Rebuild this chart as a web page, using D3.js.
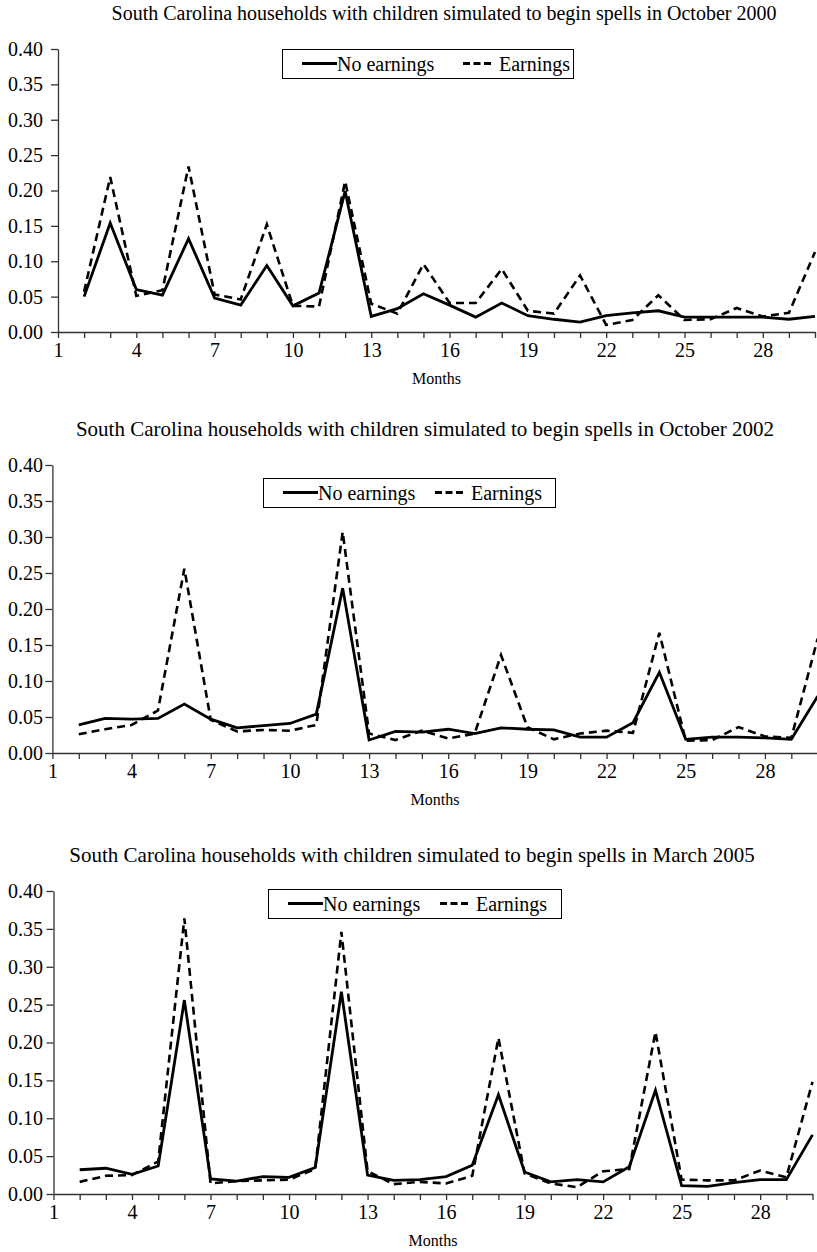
<!DOCTYPE html>
<html><head><meta charset="utf-8">
<script src="https://cdn.jsdelivr.net/npm/d3@7"></script>
<style>body{margin:0;background:#fff}svg{display:block}</style>
</head><body><svg id="c" width="817" height="1252"></svg>
<script>
const months = d3.range(1, 31);
const xTickLabels = [1, 4, 7, 10, 13, 16, 19, 22, 25, 28];
const yTicks = [0, 0.05, 0.10, 0.15, 0.20, 0.25, 0.30, 0.35, 0.40];
const seriesNames = ["No earnings", "Earnings"];
const titles = [
  "South Carolina households with children simulated to begin spells in October 2000",
  "South Carolina households with children simulated to begin spells in October 2002",
  "South Carolina households with children simulated to begin spells in March 2005"
];
// month 1 has no value
const noEarn2000 = [null,0.050,0.154,0.060,0.052,0.132,0.048,0.038,0.094,0.037,0.055,0.199,0.022,0.033,0.054,0.038,0.021,0.041,0.023,0.018,0.014,0.023,0.027,0.030,0.021,0.021,0.021,0.021,0.018,0.022];
const earn2000   = [null,0.057,0.219,0.051,0.059,0.234,0.053,0.046,0.152,0.037,0.036,0.213,0.040,0.026,0.096,0.041,0.041,0.089,0.030,0.026,0.080,0.010,0.017,0.052,0.017,0.018,0.034,0.022,0.027,0.113];
const noEarn2002 = [null,0.039,0.048,0.047,0.048,0.068,0.047,0.035,0.038,0.041,0.054,0.229,0.018,0.030,0.029,0.033,0.027,0.035,0.033,0.032,0.022,0.022,0.042,0.112,0.019,0.022,0.022,0.021,0.019,0.079];
const earn2002   = [null,0.026,0.033,0.039,0.059,0.256,0.046,0.030,0.032,0.031,0.039,0.307,0.027,0.018,0.031,0.020,0.027,0.136,0.036,0.019,0.027,0.031,0.028,0.167,0.017,0.018,0.036,0.023,0.021,0.159];
const noEarn2005 = [null,0.032,0.034,0.026,0.037,0.256,0.020,0.017,0.023,0.022,0.035,0.267,0.025,0.018,0.019,0.023,0.038,0.131,0.029,0.016,0.019,0.016,0.036,0.137,0.011,0.010,0.015,0.019,0.019,0.078];
const earn2005   = [null,0.016,0.024,0.025,0.043,0.364,0.014,0.017,0.018,0.019,0.033,0.346,0.030,0.013,0.016,0.014,0.024,0.206,0.027,0.014,0.009,0.030,0.033,0.214,0.019,0.018,0.018,0.031,0.022,0.148];

const panelData = [[noEarn2000, earn2000], [noEarn2002, earn2002], [noEarn2005, earn2005]];
const FONT = '"Liberation Serif", "Times New Roman", serif';
// layout (positions only)
const layout = [
  {left: 58, right: 815, top: 49, bottom: 332, titleX: 444, titleSize: 20, legend: {x: 282, y: 49, w: 291, h: 29, l1: 302, l2: 463}},
  {left: 52.4, right: 817.7, top: 465, bottom: 753, titleX: 425, titleSize: 21, legend: {x: 263, y: 478, w: 292, h: 29, l1: 283, l2: 435}},
  {left: 53.5, right: 812.5, top: 891, bottom: 1194, titleX: 412, titleSize: 21, legend: {x: 268, y: 889, w: 293, h: 29, l1: 288, l2: 440}}
];
const dashes = [null, "8,5"];

const svg = d3.select("#c").style("font-family", FONT);
layout.forEach((L, i) => {
  const g = svg.append("g");
  const x = d3.scaleLinear().domain([1, 30]).range([L.left, L.right]);
  const y = d3.scaleLinear().domain([0, 0.4]).range([L.bottom, L.top]);

  // title
  g.append("text").attr("x", L.titleX).attr("y", L.top - 29)
    .attr("text-anchor", "middle").style("font-family", FONT).style("font-size", L.titleSize + "px").text(titles[i]);

  // y axis
  const ya = g.append("g").attr("transform", `translate(${L.left},0)`)
    .call(d3.axisLeft(y).tickValues(yTicks).tickFormat(d3.format(".2f")).tickSize(7).tickSizeOuter(0));
  ya.attr("font-family", null);
  ya.selectAll("text").style("font-family", FONT).style("font-size", "20px").attr("fill", "#000").attr("x", 43 - L.left);
  // x axis
  const xa = g.append("g").attr("transform", `translate(0,${L.bottom})`)
    .call(d3.axisBottom(x).tickValues(months).tickFormat(d => xTickLabels.includes(d) ? d : "").tickSize(6).tickSizeOuter(0));
  xa.attr("font-family", null);
  xa.selectAll("text").style("font-family", FONT).style("font-size", "20px").attr("fill", "#000").attr("y", 11);
  [ya, xa].forEach(a => { a.select(".domain").attr("stroke", "#333").attr("stroke-width", 1.3); a.selectAll(".tick line").attr("stroke", "#333").attr("stroke-width", 1.3); });

  g.append("text").attr("x", (L.left + L.right) / 2).attr("y", L.bottom + 52)
    .attr("text-anchor", "middle").style("font-family", FONT).style("font-size", "16px").text("Months");

  const line = d3.line().defined(d => d[1] != null).x(d => x(d[0])).y(d => y(d[1]));
  panelData[i].forEach((vals, s) => {
    g.append("path").datum(months.map((m, k) => [m, vals[k]]))
      .attr("d", line).attr("fill", "none").attr("stroke", "#000")
      .attr("stroke-width", s === 0 ? 2.8 : 2.6)
      .attr("stroke-dasharray", dashes[s]).attr("stroke-linejoin", "miter");
  });

  // legend
  const lg = L.legend;
  g.append("rect").attr("x", lg.x + 0.5).attr("y", lg.y + 0.5).attr("width", lg.w).attr("height", lg.h)
    .attr("fill", "#fff").attr("stroke", "#000").attr("stroke-width", 1);
  const cy = lg.y + lg.h / 2;
  [lg.l1, lg.l2].forEach((lx, s) => {
    const len = s === 0 ? 35 : 30;
    g.append("line").attr("x1", lx).attr("x2", lx + len).attr("y1", cy).attr("y2", cy)
      .attr("stroke", "#000").attr("stroke-width", 2.8).attr("stroke-dasharray", s === 0 ? null : "7,3.5");
    g.append("text").attr("x", lx + len + (s === 0 ? 0 : 6)).attr("y", cy + 7)
      .style("font-family", FONT).style("font-size", "20px").text(seriesNames[s]);
  });
});
</script></body></html>
